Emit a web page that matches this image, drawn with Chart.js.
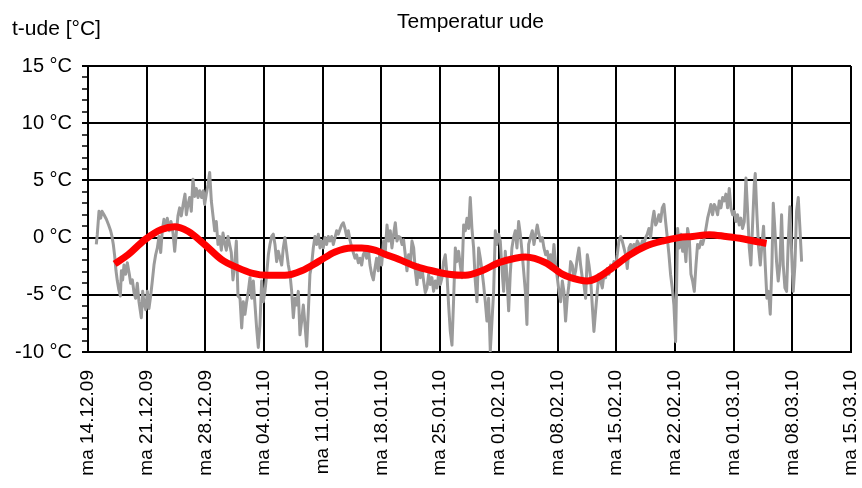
<!DOCTYPE html>
<html>
<head>
<meta charset="utf-8">
<title>Temperatur ude</title>
<script src="https://cdn.jsdelivr.net/npm/chart.js@4.4.1/dist/chart.umd.min.js"></script>
<style>
  html, body { margin: 0; padding: 0; background: #fff; }
  #wrap { width: 862px; height: 488px; }
</style>
</head>
<body>
<div id="wrap"><canvas id="tempChart" width="862" height="488"></canvas></div>
<script>
// ========== DATA ==========
// x = days since Monday 14.12.2009

const chartTitle = 'Temperatur ude';
const axisTitle = 't-ude [°C]';

const weekLabels = [
    'ma 14.12.09', 'ma 21.12.09', 'ma 28.12.09', 'ma 04.01.10', 'ma 11.01.10',
    'ma 18.01.10', 'ma 25.01.10', 'ma 01.02.10', 'ma 08.02.10', 'ma 15.02.10',
    'ma 22.02.10', 'ma 01.03.10', 'ma 08.03.10', 'ma 15.03.10'
];
const tempTicks = [-10, -5, 0, 5, 10, 15];

// measured outdoor temperature
const greyDay = [
    // 15.12 - 01.01
    0.99, 1.11, 1.31, 1.51, 1.67, 1.91, 2.19, 2.46, 2.70, 2.86,
    3.02, 3.18, 3.34, 3.50, 3.66, 3.86, 3.98, 4.13, 4.29, 4.49,
    4.69, 4.93, 5.09, 5.29, 5.49, 5.68, 5.88, 6.08, 6.36, 6.52,
    6.68, 6.88, 7.08, 7.27, 7.47, 7.67, 7.87, 8.07, 8.27, 8.47,
    8.67, 8.86, 9.06, 9.26, 9.46, 9.70, 9.90, 10.14, 10.34, 10.53,
    10.73, 10.93, 11.13, 11.37, 11.57, 11.73, 11.93, 12.12, 12.32, 12.52,
    12.72, 12.92, 13.12, 13.32, 13.55, 13.75, 13.91, 14.11, 14.31, 14.51,
    14.71, 14.91, 15.11, 15.30, 15.50, 15.70, 15.90, 16.10, 16.30, 16.50,
    16.70, 16.89, 17.09, 17.29, 17.49, 17.69, 17.89,
    // 01.01 - 18.01
    18.13, 18.33, 18.52, 18.72, 18.92, 19.12, 19.32, 19.52, 19.72, 19.92,
    20.11, 20.31, 20.51, 20.71, 20.91, 21.11, 21.31, 21.51, 21.70, 21.90,
    22.10, 22.30, 22.50, 22.70, 22.90, 23.10, 23.29, 23.49, 23.69, 23.89,
    24.09, 24.29, 24.49, 24.69, 24.88, 25.08, 25.28, 25.48, 25.68, 25.88,
    26.08, 26.28, 26.47, 26.67, 26.87, 27.07, 27.27, 27.47, 27.67, 27.87,
    28.06, 28.26, 28.46, 28.66, 28.86, 29.06, 29.26, 29.46, 29.65, 29.85,
    30.05, 30.25, 30.45, 30.65, 30.85, 31.05, 31.24, 31.44, 31.64, 31.84,
    32.04, 32.24, 32.44, 32.64, 32.83, 33.03, 33.23, 33.43, 33.63, 33.83,
    34.03, 34.22, 34.42, 34.62, 34.82, 35.02,
    // 18.01 - 05.02
    35.26, 35.46, 35.66, 35.86, 36.05, 36.25, 36.45, 36.65, 36.85, 37.05,
    37.25, 37.45, 37.64, 37.84, 38.04, 38.24, 38.44, 38.64, 38.84, 39.04,
    39.23, 39.43, 39.63, 39.83, 40.03, 40.23, 40.43, 40.63, 40.82, 41.02,
    41.22, 41.42, 41.62, 41.82, 42.02, 42.22, 42.41, 42.61, 42.81, 43.01,
    43.21, 43.41, 43.61, 43.81, 44.00, 44.20, 44.40, 44.60, 44.80, 45.00,
    45.20, 45.40, 45.59, 45.79, 45.99, 46.19, 46.39, 46.59, 46.79, 46.99,
    47.18, 47.38, 47.58, 47.78, 47.98, 48.18, 48.38, 48.58, 48.77, 48.97,
    49.17, 49.37, 49.57, 49.77, 49.97, 50.17, 50.36, 50.56, 50.76, 50.96,
    51.16, 51.36, 51.56, 51.76, 51.96, 52.16, 52.35, 52.55,
    // 05.02 - 22.02
    52.99, 53.19, 53.39, 53.58, 53.78, 53.98, 54.18, 54.38, 54.58, 54.78,
    54.98, 55.17, 55.37, 55.57, 55.77, 55.97, 56.17, 56.37, 56.57, 56.76,
    56.96, 57.16, 57.36, 57.56, 57.76, 57.96, 58.16, 58.35, 58.55, 58.75,
    58.95, 59.15, 59.35, 59.55, 59.75, 59.94, 60.14, 60.34, 60.54, 60.74,
    60.94, 61.14, 61.34, 61.53, 61.73, 61.93, 62.13, 62.33, 62.53, 62.73,
    62.93, 63.12, 63.32, 63.52, 63.72, 63.92, 64.12, 64.32, 64.52, 64.71,
    64.91, 65.11, 65.31, 65.51, 65.71, 65.91, 66.11, 66.30, 66.50, 66.70,
    66.90, 67.10, 67.30, 67.50, 67.70, 67.89, 68.09, 68.29, 68.49, 68.69,
    68.89, 69.09, 69.29, 69.48, 69.68, 69.88, 70.08,
    // 22.02 - 09.03
    70.32, 70.52, 70.72, 70.92, 71.11, 71.31, 71.51, 71.71, 71.91, 72.11,
    72.31, 72.51, 72.70, 72.90, 73.10, 73.30, 73.50, 73.70, 73.90, 74.10,
    74.29, 74.49, 74.69, 74.89, 75.09, 75.29, 75.49, 75.69, 75.88, 76.08,
    76.28, 76.48, 76.68, 76.88, 77.08, 77.27, 77.47, 77.67, 77.87, 78.07,
    78.27, 78.47, 78.67, 78.87, 79.06, 79.26, 79.46, 79.58, 79.78, 79.98,
    80.18, 80.38, 80.57, 80.77, 80.97, 81.17, 81.37, 81.57, 81.73, 81.93,
    82.12, 82.32, 82.52, 82.72, 82.92, 83.12, 83.32, 83.52, 83.71, 83.91,
    84.11, 84.31, 84.51, 84.71, 84.91, 85.11
];
const greyTemp = [
    // 15.12 - 01.01
    -0.6, 0.3, 2.3, 1.7, 2.3, 2.0, 1.6, 1.1, 0.6, 0.1,
    -0.6, -1.6, -2.9, -3.8, -4.5, -5.1, -2.9, -3.7, -2.4, -3.2,
    -2.2, -3.2, -4.0, -3.7, -4.8, -5.3, -4.0, -5.6, -7.0, -4.7,
    -5.7, -6.3, -4.7, -6.2, -5.1, -3.8, -2.4, -1.5, -0.9, 0.1,
    -1.3, 0.6, 1.6, 0.7, 1.7, 0.6, 1.4, 0.4, -1.2, 0.4,
    1.9, 2.6, 1.9, 3.0, 3.8, 2.0, 2.9, 3.5, 2.3, 5.1,
    3.6, 4.3, 3.5, 4.1, 3.5, 4.1, 2.9, 3.8, 4.6, 5.7,
    3.2, 1.9, 0.6, 1.4, -0.6, 0.1, -1.1, 0.4, -0.5, -1.1,
    0.1, -0.6, -1.3, -3.7, -2.4, -0.3, -5.1,
    // 01.01 - 18.01
    -5.3, -7.9, -5.6, -6.7, -5.6, -4.7, -3.5, -5.3, -3.8, -5.9,
    -7.9, -9.6, -7.6, -3.8, -5.6, -4.7, -3.2, -1.5, -0.6, 0.1,
    0.3, -0.6, -2.1, -1.2, -1.8, -2.4, -0.9, 0.0, -1.2, -2.4,
    -3.2, -4.7, -7.0, -5.3, -5.9, -4.7, -8.5, -7.3, -5.9, -7.6,
    -9.5, -6.4, -3.2, -2.4, -0.9, 0.1, -0.6, 0.3, -0.9, -0.3,
    -0.9, 0.0, -0.6, 0.1, -0.3, 0.1, -0.6, 0.0, 0.6, 0.3,
    0.7, 1.1, 1.3, 0.8, 0.1, 0.6, -0.2, -0.8, -1.3, -1.8,
    -1.5, -2.2, -1.8, -2.4, -1.5, -1.2, -1.8, -0.9, -2.4, -3.2,
    -3.7, -2.7, -1.8, -2.9, -1.2, -2.4,
    // 18.01 - 05.02
    -0.3, -1.2, 1.1, -0.3, 0.6, -0.9, 0.3, 1.3, -0.3, 0.1,
    0.0, -0.6, -0.2, -1.5, -2.9, -1.5, -2.4, -0.3, -0.9, -2.9,
    -4.1, -2.4, -3.5, -2.7, -3.8, -4.8, -4.4, -3.2, -4.1, -3.5,
    -4.7, -3.8, -4.4, -3.2, -4.1, -3.5, -2.1, -1.5, -3.2, -5.9,
    -8.2, -9.4, -5.3, -0.9, -2.1, -1.2, -2.4, -3.5, 1.1, 0.6,
    1.7, 0.8, 3.5, 0.8, -0.9, -3.8, -5.6, -0.9, -1.8, -2.9,
    -4.1, -5.6, -7.3, -5.3, -9.9, -7.3, -4.7, 0.6, -0.6, 0.3,
    -0.3, -2.7, -4.7, -1.2, -3.5, -6.4, -3.2, -0.9, 0.0, 0.6,
    -0.9, 1.4, 0.3, -1.2, -2.9, -4.7, -7.6, -0.6,
    // 05.02 - 22.02
    0.6, -0.6, 0.3, 1.1, 0.3, -0.3, 0.0, -0.9, -1.5, -1.2,
    -2.1, -1.5, -2.4, -0.6, -2.4, -3.5, -4.7, -5.6, -3.8, -4.7,
    -7.3, -5.3, -4.1, -2.1, -2.4, -3.5, -2.9, -1.8, -0.9, -2.4,
    -3.5, -4.1, -5.3, -1.5, -2.4, -3.5, -5.9, -8.2, -6.4, -4.7,
    -3.2, -3.8, -4.4, -3.2, -3.5, -2.7, -3.2, -2.4, -2.9, -2.1,
    -2.4, -1.5, -0.3, 0.1, -0.3, -0.9, -1.5, -2.7, -0.9, -0.6,
    -1.2, -0.6, -0.9, -0.3, -0.6, -0.9, -0.3, -0.6, 0.0, 0.3,
    0.8, 0.0, 1.4, 2.3, 1.1, 1.4, 2.0, 1.4, 2.6, 2.9,
    1.4, 0.0, -1.5, -3.2, -4.4, -5.9, -9.1,
    // 22.02 - 09.03
    0.8, -0.9, 0.3, -1.2, -0.3, -2.1, 0.8, 0.0, -3.2, -3.8,
    -4.7, -2.4, -0.6, -0.9, -0.3, -0.6, 0.0, 0.8, 1.7, 2.3,
    2.9, 2.0, 2.9, 2.6, 2.0, 3.2, 2.6, 3.5, 3.2, 3.8,
    2.6, 4.3, 2.6, 2.0, 2.3, 1.4, 2.0, 1.1, 1.7, 0.8,
    1.4, 5.2, 2.3, -0.9, -2.4, 1.1, 4.6, 5.6, 2.0, -0.9,
    -2.4, -0.6, 1.0, -2.4, -5.3, -4.7, -6.7, -2.4, 3.0, 0.6,
    -2.1, -3.8, -2.4, 2.0, -2.4, -4.4, -4.7, -0.3, 2.7, -1.2,
    -4.7, -2.4, 2.3, 3.5, 0.8, -2.1
];

// smoothed trend
const trendDay = [
    3.18, 4.77, 6.76, 8.75, 10.34, 11.93, 13.91, 15.90, 17.89, 19.52,
    21.51, 23.49, 25.48, 27.47, 29.46, 31.44, 32.64, 34.22, 35.42, 37.05,
    39.04, 41.02, 43.01, 45.00, 46.99, 48.97, 50.96, 52.16, 54.58, 56.57,
    58.55, 59.55, 60.54, 62.53, 64.52, 66.50, 68.49, 70.48, 72.11, 74.10,
    76.08, 78.07, 80.06, 80.93
];
const trendTemp = [
    -2.3, -1.5, -0.2, 0.7, 0.95, 0.55, -0.6, -1.9, -2.65, -3.1,
    -3.3, -3.3, -2.9, -2.1, -1.25, -0.9, -0.9, -1.1, -1.45, -1.9,
    -2.5, -2.9, -3.2, -3.3, -2.9, -2.2, -1.8, -1.7, -2.2, -3.2,
    -3.7, -3.8, -3.6, -2.65, -1.55, -0.76, -0.3, 0.0, 0.1, 0.26,
    0.1, -0.1, -0.4, -0.5
];

// ========== CHART ==========

const FONT = '"Liberation Sans", Arial, Helvetica, sans-serif';

function toPoints(xs, ys) {
    const n = Math.min(xs.length, ys.length);
    const pts = [];
    for (let i = 0; i < n; i++) pts.push({ x: xs[i], y: ys[i] });
    return pts;
}

// chart heading and the unit label above the y axis
const headings = {
    id: 'headings',
    afterDraw(chart) {
        const c = chart.ctx;
        const area = chart.chartArea;
        c.save();
        c.fillStyle = '#000';
        c.textBaseline = 'alphabetic';
        c.font = '21px ' + FONT;
        c.textAlign = 'center';
        c.fillText(chartTitle, (area.left + area.right) / 2 + 1, 28);
        c.textAlign = 'left';
        c.fillText(axisTitle, 12, 35);
        c.restore();
    }
};

new Chart(document.getElementById('tempChart').getContext('2d'), {
    type: 'line',
    data: {
        datasets: [{
            label: 'trend',
            data: toPoints(trendDay, trendTemp),
            borderColor: '#ff0000',
            borderWidth: 7,
            borderCapStyle: 'butt',
            borderJoinStyle: 'round',
            cubicInterpolationMode: 'monotone',
            pointRadius: 0,
            order: 1
        }, {
            label: 't-ude',
            data: toPoints(greyDay, greyTemp),
            borderColor: '#9b9b9b',
            borderWidth: 3,
            borderJoinStyle: 'round',
            tension: 0,
            pointRadius: 0,
            order: 2
        }]
    },
    options: {
        responsive: false,
        animation: false,
        layout: { padding: { top: 66, right: 11, left: 0, bottom: 0 } },
        plugins: {
            legend: { display: false },
            tooltip: { enabled: false }
        },
        scales: {
            x: {
                type: 'linear',
                min: 0,
                max: 91,
                ticks: {
                    stepSize: 7,
                    autoSkip: false,
                    minRotation: 90,
                    maxRotation: 90,
                    padding: 18,
                    color: '#000',
                    font: { family: FONT, size: 19 },
                    callback: (v) => weekLabels[Math.round(v / 7)]
                },
                grid: { color: '#000', lineWidth: 2, drawTicks: false },
                border: { color: '#000', width: 2 },
                afterFit: (s) => {
                    s.height = 136;
                    s.paddingLeft = 0;
                    s.paddingRight = 0;
                }
            },
            y: {
                min: -10,
                max: 15,
                ticks: {
                    stepSize: 1,
                    autoSkip: false,
                    padding: 10,
                    color: '#000',
                    font: { family: FONT, size: 20 },
                    callback: (v) => tempTicks.includes(v) ? v + ' °C' : ''
                },
                grid: {
                    color: (ctx) => tempTicks.includes(ctx.tick.value) ? '#000' : 'rgba(0,0,0,0)',
                    lineWidth: 2,
                    tickLength: 6,
                    tickColor: '#000',
                    tickWidth: (ctx) => tempTicks.includes(ctx.tick.value) ? 2 : 1.5
                },
                border: { color: '#000', width: 2 },
                afterFit: (s) => {
                    s.width = 88;
                    s.paddingTop = 0;
                    s.paddingBottom = 0;
                }
            }
        }
    },
    plugins: [headings]
});
</script>
</body>
</html>
